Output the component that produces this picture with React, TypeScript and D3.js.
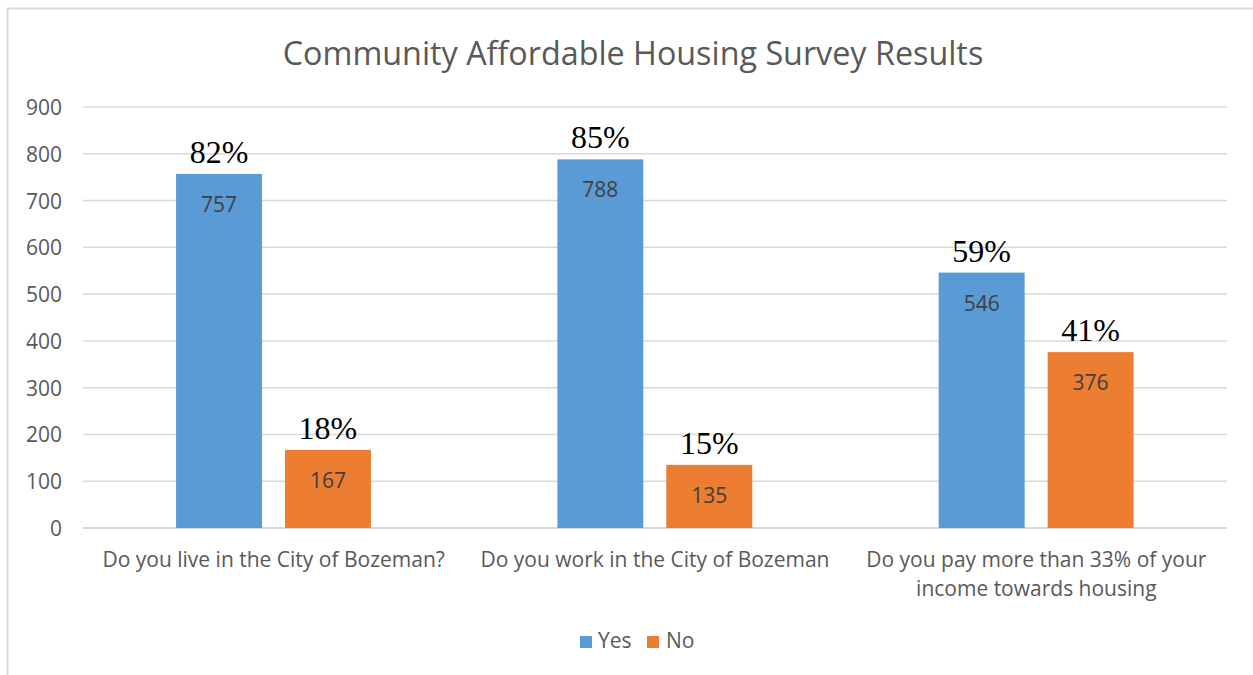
import React from "react";
import * as d3 from "d3";

const categories = [
  ["Do you live in the City of Bozeman?"],
  ["Do you work in the City of Bozeman"],
  ["Do you pay more than 33% of your", "income towards housing"],
];
const seriesNames = ["Yes", "No"];
const yesValues = [757, 788, 546];
const noValues = [167, 135, 376];
const yesPct = ["82%", "85%", "59%"];
const noPct = ["18%", "15%", "41%"];
const yTicks = [0, 100, 200, 300, 400, 500, 600, 700, 800, 900];
const colors = ["#5B9BD5", "#ED7D31"];

const W = 1253;
const H = 675;
const sans = "'Open Sans', sans-serif";
const serif = "'Liberation Serif', 'DejaVu Serif', serif";

export default function App() {
  const left = 83, right = 1227, top = 107, bottom = 528;
  const y = d3.scaleLinear().domain([0, 900]).range([bottom, top]);
  const x0 = d3.scaleBand<number>().domain([0, 1, 2]).range([left, right]).padding(0);
  const bw = x0.bandwidth();
  const x1 = d3
    .scaleBand<string>()
    .domain(seriesNames)
    .range([bw * 0.244, bw * 0.755])
    .paddingInner(0.211)
    .paddingOuter(0);
  const series = [yesValues, noValues];
  const pcts = [yesPct, noPct];

  return (
    <svg width={W} height={H} style={{ position: "absolute", left: 0, top: 0 }}>
      <rect x={0} y={0} width={W} height={H} fill="#fff" />
      <line x1={7.5} y1={8} x2={7.5} y2={H} stroke="#d9d9d9" strokeWidth={2} />
      <line x1={7} y1={8.5} x2={W} y2={8.5} stroke="#d9d9d9" strokeWidth={2} />
      <text x={633} y={65} textAnchor="middle" fontFamily={sans} fontSize={32.3} fill="#595959">
        Community Affordable Housing Survey Results
      </text>
      {yTicks.map((t) => (
        <g key={t}>
          <line x1={left} x2={right} y1={y(t)} y2={y(t)} stroke="#d9d9d9" strokeWidth={t === 0 ? 2 : 1.5} />
          <text x={62} y={y(t) + 8} textAnchor="end" fontFamily={sans} fontSize={21} fill="#595959">
            {t}
          </text>
        </g>
      ))}
      {categories.map((lines, i) => (
        <g key={i}>
          {seriesNames.map((s, j) => {
            const v = series[j][i];
            const bx = (x0(i) as number) + (x1(s) as number);
            const w = x1.bandwidth();
            return (
              <g key={s}>
                <rect x={bx} y={y(v)} width={w} height={y(0) - y(v)} fill={colors[j]} />
                <text x={bx + w / 2} y={y(v) + 38} textAnchor="middle" fontFamily={sans} fontSize={21} fill="#404040">
                  {v}
                </text>
                <text x={bx + w / 2} y={y(v) - 11} textAnchor="middle" fontFamily={serif} fontSize={32} fill="#000">
                  {pcts[j][i]}
                </text>
              </g>
            );
          })}
          {lines.map((ln, k) => (
            <text key={k} x={(x0(i) as number) + bw / 2} y={567 + k * 29} textAnchor="middle" fontFamily={sans} fontSize={21} fill="#595959">
              {ln}
            </text>
          ))}
        </g>
      ))}
      <g>
        <rect x={580} y={636} width={12} height={12} fill={colors[0]} />
        <text x={598} y={648} fontFamily={sans} fontSize={21} fill="#595959">Yes</text>
        <rect x={647} y={636} width={12} height={12} fill={colors[1]} />
        <text x={666} y={648} fontFamily={sans} fontSize={21} fill="#595959">No</text>
      </g>
    </svg>
  );
}
